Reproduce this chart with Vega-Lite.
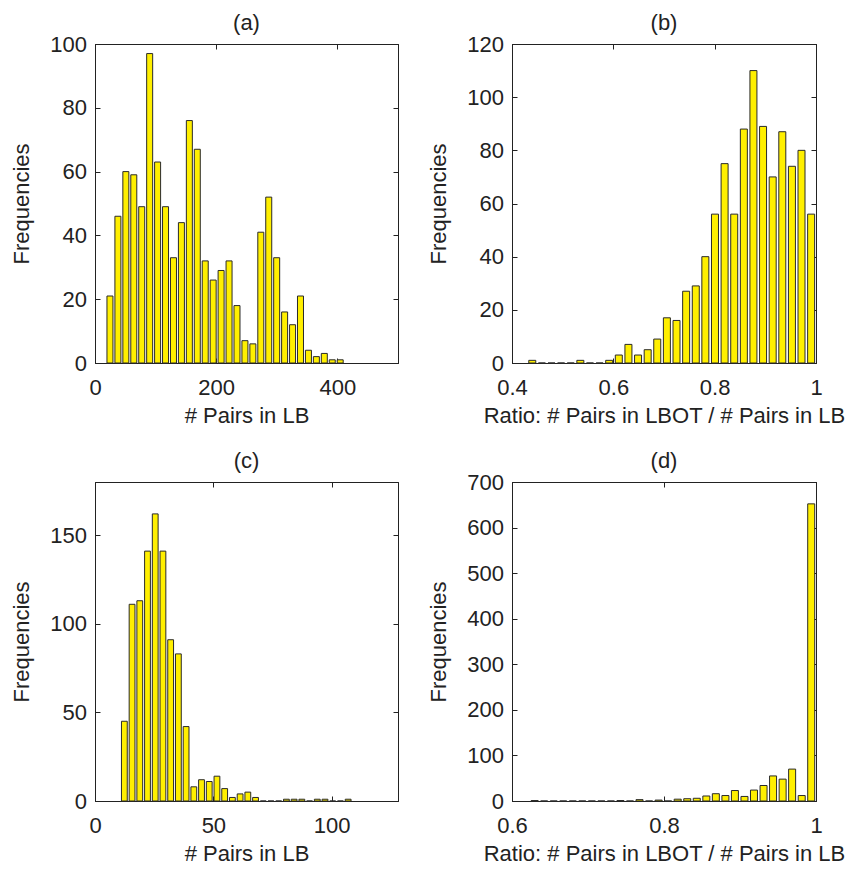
{
  "$schema": "https://vega.github.io/schema/vega-lite/v6.json",
  "background": "white",
  "padding": {"left": 10, "top": 11, "right": 0, "bottom": 0},
  "bounds": "flush",
  "spacing": {"row": 119, "column": 114},
  "columns": 2,
  "config": {
    "font": "Liberation Sans",
    "view": {"stroke": "#222222", "strokeWidth": 1},
    "axis": {
      "grid": false,
      "labelFlush": false,
      "domainColor": "#222222",
      "tickColor": "#222222",
      "labelColor": "#222222",
      "titleColor": "#222222",
      "labelFont": "Liberation Sans",
      "titleFont": "Liberation Sans",
      "labelFontSize": 22,
      "titleFontSize": 22,
      "titleFontWeight": "normal",
      "tickSize": -5
    },
    "axisX": {"labelPadding": 19, "titlePadding": 7},
    "axisY": {"labelPadding": 13.5, "titlePadding": 16},
    "title": {"font": "Liberation Sans", "fontSize": 22, "fontWeight": "normal", "color": "#222222", "offset": -2, "frame": "group"}
  },
  "datasets": {
    "a": [
      {"center": 24.7, "count": 21}, {"center": 37.8, "count": 46}, {"center": 50.9, "count": 60},
      {"center": 64.0, "count": 59}, {"center": 77.1, "count": 49}, {"center": 90.2, "count": 97},
      {"center": 103.3, "count": 63}, {"center": 116.4, "count": 49}, {"center": 129.5, "count": 33},
      {"center": 142.6, "count": 44}, {"center": 155.7, "count": 76}, {"center": 168.8, "count": 67},
      {"center": 181.9, "count": 32}, {"center": 195.0, "count": 26}, {"center": 208.1, "count": 29},
      {"center": 221.2, "count": 32}, {"center": 234.3, "count": 18}, {"center": 247.4, "count": 7},
      {"center": 260.5, "count": 6}, {"center": 273.6, "count": 41}, {"center": 286.7, "count": 52},
      {"center": 299.8, "count": 33}, {"center": 312.9, "count": 16}, {"center": 326.0, "count": 12},
      {"center": 339.1, "count": 21}, {"center": 352.2, "count": 4}, {"center": 365.3, "count": 2},
      {"center": 378.4, "count": 3}, {"center": 391.5, "count": 1}, {"center": 404.6, "count": 1}
    ],
    "b": [
      {"center": 0.4400, "count": 1}, {"center": 0.4590, "count": 0}, {"center": 0.4780, "count": 0},
      {"center": 0.4969, "count": 0}, {"center": 0.5159, "count": 0}, {"center": 0.5349, "count": 1},
      {"center": 0.5539, "count": 0}, {"center": 0.5729, "count": 0}, {"center": 0.5918, "count": 1},
      {"center": 0.6108, "count": 3}, {"center": 0.6298, "count": 7}, {"center": 0.6488, "count": 3},
      {"center": 0.6678, "count": 5}, {"center": 0.6867, "count": 9}, {"center": 0.7057, "count": 17},
      {"center": 0.7247, "count": 16}, {"center": 0.7437, "count": 27}, {"center": 0.7627, "count": 29},
      {"center": 0.7816, "count": 40}, {"center": 0.8006, "count": 56}, {"center": 0.8196, "count": 75},
      {"center": 0.8386, "count": 56}, {"center": 0.8576, "count": 88}, {"center": 0.8765, "count": 110},
      {"center": 0.8955, "count": 89}, {"center": 0.9145, "count": 70}, {"center": 0.9335, "count": 87},
      {"center": 0.9525, "count": 74}, {"center": 0.9714, "count": 80}, {"center": 0.9904, "count": 56}
    ],
    "c": [
      {"center": 12.40, "count": 45}, {"center": 15.66, "count": 111}, {"center": 18.92, "count": 113},
      {"center": 22.18, "count": 141}, {"center": 25.44, "count": 162}, {"center": 28.70, "count": 141},
      {"center": 31.96, "count": 91}, {"center": 35.22, "count": 83}, {"center": 38.48, "count": 42},
      {"center": 41.74, "count": 8}, {"center": 45.00, "count": 12}, {"center": 48.26, "count": 11},
      {"center": 51.52, "count": 14}, {"center": 54.78, "count": 7}, {"center": 58.04, "count": 2},
      {"center": 61.30, "count": 4}, {"center": 64.56, "count": 5}, {"center": 67.82, "count": 2},
      {"center": 71.08, "count": 0}, {"center": 74.34, "count": 0}, {"center": 77.60, "count": 0},
      {"center": 80.86, "count": 1}, {"center": 84.12, "count": 1}, {"center": 87.38, "count": 1},
      {"center": 90.64, "count": 0}, {"center": 93.90, "count": 1}, {"center": 97.16, "count": 1},
      {"center": 100.42, "count": 0}, {"center": 103.68, "count": 0}, {"center": 106.94, "count": 1}
    ],
    "d": [
      {"center": 0.6298, "count": 1}, {"center": 0.6423, "count": 0}, {"center": 0.6549, "count": 0},
      {"center": 0.6674, "count": 0}, {"center": 0.6800, "count": 0}, {"center": 0.6925, "count": 0},
      {"center": 0.7051, "count": 0}, {"center": 0.7176, "count": 0}, {"center": 0.7302, "count": 0},
      {"center": 0.7427, "count": 1}, {"center": 0.7553, "count": 0}, {"center": 0.7678, "count": 3},
      {"center": 0.7804, "count": 0}, {"center": 0.7929, "count": 2}, {"center": 0.8055, "count": 0},
      {"center": 0.8180, "count": 4}, {"center": 0.8306, "count": 5}, {"center": 0.8431, "count": 6},
      {"center": 0.8557, "count": 11}, {"center": 0.8682, "count": 16}, {"center": 0.8808, "count": 12},
      {"center": 0.8933, "count": 23}, {"center": 0.9059, "count": 10}, {"center": 0.9184, "count": 24},
      {"center": 0.9310, "count": 34}, {"center": 0.9435, "count": 55}, {"center": 0.9561, "count": 48},
      {"center": 0.9686, "count": 70}, {"center": 0.9812, "count": 12}, {"center": 0.9937, "count": 652}
    ]
  },
  "concat": [
    {
      "width": 303, "height": 319,
      "title": {"text": "(a)"},
      "data": {"name": "a"},
      "layer": [
        {
          "mark": {"type": "bar", "width": 6, "fill": "#ffef00", "stroke": "#2a2a2a", "strokeWidth": 1},
          "encoding": {
            "x": {"field": "center", "type": "quantitative", "scale": {"domain": [0, 500], "nice": false, "zero": false, "padding": 0}, "axis": {"values": [0, 200, 400], "title": "# Pairs in LB"}},
            "y": {"field": "count", "type": "quantitative", "scale": {"domain": [0, 100], "nice": false}, "axis": {"values": [0, 20, 40, 60, 80, 100], "title": "Frequencies"}}
          }
        },
        {
          "mark": {"type": "bar", "width": 6, "opacity": 0},
          "encoding": {
            "x": {"field": "center", "type": "quantitative", "axis": {"orient": "top", "values": [0, 200, 400], "labels": false, "title": null}},
            "y": {"field": "count", "type": "quantitative", "axis": {"orient": "right", "values": [0, 20, 40, 60, 80, 100], "labels": false, "title": null}}
          }
        }
      ],
      "resolve": {"axis": {"x": "independent", "y": "independent"}}
    },
    {
      "width": 304, "height": 319,
      "title": {"text": "(b)"},
      "data": {"name": "b"},
      "layer": [
        {
          "mark": {"type": "bar", "width": 7, "fill": "#ffef00", "stroke": "#2a2a2a", "strokeWidth": 1},
          "encoding": {
            "x": {"field": "center", "type": "quantitative", "scale": {"domain": [0.4, 1], "nice": false, "zero": false, "padding": 0}, "axis": {"values": [0.4, 0.6, 0.8, 1], "format": "~g", "title": "Ratio: # Pairs in LBOT / # Pairs in LB"}},
            "y": {"field": "count", "type": "quantitative", "scale": {"domain": [0, 120], "nice": false}, "axis": {"values": [0, 20, 40, 60, 80, 100, 120], "title": "Frequencies"}}
          }
        },
        {
          "mark": {"type": "bar", "width": 7, "opacity": 0},
          "encoding": {
            "x": {"field": "center", "type": "quantitative", "axis": {"orient": "top", "values": [0.4, 0.6, 0.8, 1], "labels": false, "title": null}},
            "y": {"field": "count", "type": "quantitative", "axis": {"orient": "right", "values": [0, 20, 40, 60, 80, 100, 120], "labels": false, "title": null}}
          }
        }
      ],
      "resolve": {"axis": {"x": "independent", "y": "independent"}}
    },
    {
      "width": 303, "height": 319,
      "title": {"text": "(c)", "offset": 9},
      "data": {"name": "c"},
      "layer": [
        {
          "mark": {"type": "bar", "width": 5.8, "fill": "#ffef00", "stroke": "#2a2a2a", "strokeWidth": 1},
          "encoding": {
            "x": {"field": "center", "type": "quantitative", "scale": {"domain": [0, 128], "nice": false, "zero": false, "padding": 0}, "axis": {"values": [0, 50, 100], "title": "# Pairs in LB"}},
            "y": {"field": "count", "type": "quantitative", "scale": {"domain": [0, 180], "nice": false}, "axis": {"values": [0, 50, 100, 150], "title": "Frequencies"}}
          }
        },
        {
          "mark": {"type": "bar", "width": 5.8, "opacity": 0},
          "encoding": {
            "x": {"field": "center", "type": "quantitative", "axis": {"orient": "top", "values": [0, 50, 100], "labels": false, "title": null}},
            "y": {"field": "count", "type": "quantitative", "axis": {"orient": "right", "values": [0, 50, 100, 150], "labels": false, "title": null}}
          }
        }
      ],
      "resolve": {"axis": {"x": "independent", "y": "independent"}}
    },
    {
      "width": 304, "height": 319,
      "title": {"text": "(d)"},
      "data": {"name": "d"},
      "layer": [
        {
          "mark": {"type": "bar", "width": 7, "fill": "#ffef00", "stroke": "#2a2a2a", "strokeWidth": 1},
          "encoding": {
            "x": {"field": "center", "type": "quantitative", "scale": {"domain": [0.6, 1], "nice": false, "zero": false, "padding": 0}, "axis": {"values": [0.6, 0.8, 1], "format": "~g", "title": "Ratio: # Pairs in LBOT / # Pairs in LB"}},
            "y": {"field": "count", "type": "quantitative", "scale": {"domain": [0, 700], "nice": false}, "axis": {"values": [0, 100, 200, 300, 400, 500, 600, 700], "title": "Frequencies"}}
          }
        },
        {
          "mark": {"type": "bar", "width": 7, "opacity": 0},
          "encoding": {
            "x": {"field": "center", "type": "quantitative", "axis": {"orient": "top", "values": [0.6, 0.8, 1], "labels": false, "title": null}},
            "y": {"field": "count", "type": "quantitative", "axis": {"orient": "right", "values": [0, 100, 200, 300, 400, 500, 600, 700], "labels": false, "title": null}}
          }
        }
      ],
      "resolve": {"axis": {"x": "independent", "y": "independent"}}
    }
  ]
}
